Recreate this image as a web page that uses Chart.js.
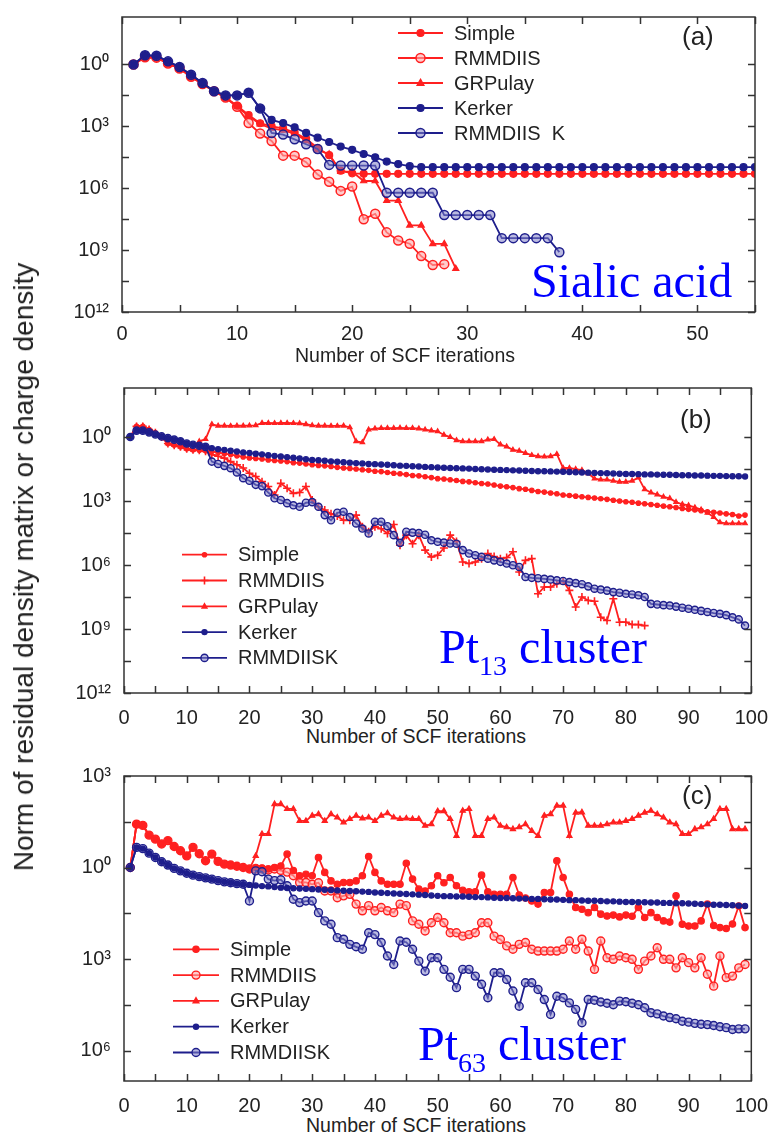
<!DOCTYPE html>
<html>
<head>
<meta charset="utf-8">
<title>SCF convergence</title>
<script src="https://cdn.jsdelivr.net/npm/chart.js@4.4.1/dist/chart.umd.min.js"></script>
<style>
	body { margin: 0; background: #fff; }
	#fig { position: relative; width: 773px; height: 1133px; overflow: hidden; font-family: "Liberation Sans", Arial, sans-serif; color: #222; }
	#fig canvas { position: absolute; left: 0; }
	.xtitle { position: absolute; font-size: 19.5px; line-height: 20px; white-space: nowrap; }
	.ytitle { position: absolute; left: 24px; top: 567px; font-size: 28px; line-height: 28px; white-space: nowrap; transform: translate(-50%, -50%) rotate(-90deg); }
	.tag { position: absolute; font-family: "Liberation Serif", "Times New Roman", serif; font-size: 48px; line-height: 48px; color: #0000ff; white-space: nowrap; }
	.tag span { font-size: 28px; position: relative; top: 12px; }
	.plabel { position: absolute; font-size: 26px; line-height: 26px; }
</style>
</head>
<body>
<div id="fig">
	<canvas id="canvas-a" width="773" height="345" style="top:0px"></canvas>
	<canvas id="canvas-b" width="773" height="355" style="top:370px"></canvas>
	<canvas id="canvas-c" width="773" height="363" style="top:750px"></canvas>
	<div class="ytitle">Norm of residual density matrix or charge density</div>
	<div class="xtitle" style="left:295px;top:345px">Number of SCF iterations</div>
	<div class="xtitle" style="left:306px;top:726px">Number of SCF iterations</div>
	<div class="xtitle" style="left:306px;top:1115px">Number of SCF iterations</div>
	<div class="plabel" style="left:682px;top:23px">(a)</div>
	<div class="plabel" style="left:680px;top:406px">(b)</div>
	<div class="plabel" style="left:682px;top:782px">(c)</div>
	<div class="tag" style="left:531px;top:257px">Sialic acid</div>
	<div class="tag" style="left:439px;top:623px">Pt<span>13</span> cluster</div>
	<div class="tag" style="left:418px;top:1020px">Pt<span>63</span> cluster</div>
</div>
<script>
// values are log10 of the residual norm, one per SCF iteration starting at 1
var namesA = ['Simple', 'RMMDIIS', 'GRPulay', 'Kerker', 'RMMDIIS  K'];
var namesBC = ['Simple', 'RMMDIIS', 'GRPulay', 'Kerker', 'RMMDIISK'];

// (a) Sialic acid
var simpleA = [0, 0.35, 0.33, 0.05, -0.2, -0.6, -0.95, -1.3, -1.6, -2.0,
	-2.45, -2.85, -3.0, -3.1, -3.3, -3.6, -4.05, -4.4, -5.15, -5.28,
	-5.3, -5.3, -5.3, -5.3, -5.3, -5.3, -5.3, -5.3, -5.3, -5.3,
	-5.3, -5.3, -5.3, -5.3, -5.3, -5.3, -5.3, -5.3, -5.3, -5.3,
	-5.3, -5.3, -5.3, -5.3, -5.3, -5.3, -5.3, -5.3, -5.3, -5.3,
	-5.3, -5.3, -5.3, -5.3, -5.3];
var rmmdiisA = [0, 0.35, 0.33, 0.05, -0.2, -0.6, -0.95, -1.3, -1.6, -2.05,
	-2.84, -3.35, -3.71, -4.42, -4.42, -4.74, -5.34, -5.69, -6.13, -5.92,
	-7.5, -7.24, -8.14, -8.53, -8.69, -9.29, -9.72, -9.68];
var grpulayA = [0, 0.35, 0.33, 0.05, -0.2, -0.6, -0.95, -1.3, -1.6, -2.05,
	-2.5, -2.9, -3.1, -3.2, -3.35, -3.7, -4.15, -4.35, -5.2, -5.2,
	-5.65, -5.65, -6.6, -6.6, -7.8, -7.8, -8.7, -8.7, -9.9];
var kerkerA = [0, 0.45, 0.42, 0.15, -0.12, -0.5, -0.9, -1.3, -1.5, -1.5,
	-1.37, -2.13, -2.69, -2.84, -3.05, -3.32, -3.55, -3.76, -3.98, -4.14,
	-4.34, -4.5, -4.71, -4.83, -4.93, -4.98, -4.98, -4.98, -4.98, -4.98,
	-4.98, -4.98, -4.98, -4.98, -4.98, -4.98, -4.98, -4.98, -4.98, -4.98,
	-4.98, -4.98, -4.98, -4.98, -4.98, -4.98, -4.98, -4.98, -4.98, -4.98,
	-4.98, -4.98, -4.98, -4.98, -4.98];
var rmmdiiskA = [0, 0.45, 0.42, 0.15, -0.12, -0.5, -0.9, -1.3, -1.5, -1.5,
	-1.37, -2.13, -3.32, -3.4, -3.63, -3.87, -4.1, -4.87, -4.9, -4.9,
	-4.9, -4.9, -6.22, -6.22, -6.22, -6.22, -6.22, -7.3, -7.3, -7.3,
	-7.3, -7.3, -8.42, -8.42, -8.42, -8.42, -8.42, -9.1];

// (b) Pt13 cluster
var simpleB = [0, 0.5, 0.5, 0.35, 0.2, 0.0, -0.3, -0.38, -0.45, -0.55,
	-0.6, -0.62, -0.64, -0.68, -0.72, -0.78, -0.82, -0.88, -0.93, -0.98,
	-1.0, -1.03, -1.07, -1.1, -1.12, -1.15, -1.2, -1.22, -1.26, -1.3,
	-1.33, -1.35, -1.38, -1.42, -1.45, -1.47, -1.5, -1.53, -1.56, -1.6,
	-1.62, -1.66, -1.7, -1.72, -1.76, -1.8, -1.82, -1.86, -1.9, -1.95,
	-1.97, -2.0, -2.04, -2.08, -2.1, -2.14, -2.18, -2.2, -2.25, -2.3,
	-2.33, -2.37, -2.42, -2.45, -2.5, -2.55, -2.58, -2.62, -2.66, -2.72,
	-2.74, -2.77, -2.8, -2.83, -2.86, -2.89, -2.92, -2.96, -3.0, -3.03,
	-3.06, -3.1, -3.13, -3.16, -3.2, -3.24, -3.27, -3.3, -3.35, -3.39,
	-3.42, -3.45, -3.5, -3.53, -3.56, -3.6, -3.63, -3.7, -3.66];
var rmmdiisB = [0, 0.5, 0.5, 0.35, 0.2, 0.0, -0.3, -0.38, -0.45, -0.55,
	-0.6, -0.62, -0.67, -0.83, -0.9, -0.99, -1.15, -1.3, -1.45, -1.7,
	-1.85, -2.09, -2.32, -2.72, -2.17, -2.4, -2.64, -2.6, -2.32, -2.95,
	-3.27, -3.42, -3.6, -3.7, -3.9, -3.9, -3.66, -4.2, -4.44, -4.2,
	-4.3, -4.52, -4.1, -5.07, -4.6, -5.0, -4.6, -5.3, -5.62, -5.54,
	-5.2, -4.6, -4.9, -5.86, -5.93, -5.86, -5.7, -5.46, -5.6, -5.7,
	-5.65, -5.38, -6.33, -5.78, -5.7, -7.35, -7.03, -7.03, -6.88, -6.75,
	-7.19, -7.97, -7.5, -7.66, -7.7, -8.45, -8.6, -7.58, -8.68, -8.68,
	-8.79, -8.79, -8.84];
var grpulayB = [0, 0.5, 0.5, 0.35, 0.2, 0.0, -0.3, -0.38, -0.45, -0.55,
	-0.6, -0.2, -0.1, 0.6, 0.53, 0.53, 0.52, 0.53, 0.53, 0.54,
	0.55, 0.66, 0.66, 0.65, 0.66, 0.66, 0.65, 0.64, 0.6, 0.55,
	0.53, 0.53, 0.52, 0.52, 0.53, 0.45, -0.2, -0.25, 0.35, 0.4,
	0.42, 0.42, 0.42, 0.43, 0.42, 0.42, 0.4, 0.35, 0.3, 0.27,
	0.1, 0.0, -0.15, -0.2, -0.2, -0.2, -0.2, -0.12, -0.1, -0.35,
	-0.45, -0.6, -0.65, -0.75, -0.85, -0.9, -0.92, -0.9, -0.8, -1.45,
	-1.45, -1.5, -1.55, -1.7, -1.95, -2.0, -2.0, -2.05, -2.1, -2.1,
	-2.05, -1.9, -2.45, -2.6, -2.7, -2.8, -2.87, -3.05, -3.15, -3.2,
	-3.3, -3.4, -3.55, -3.75, -4.0, -4.05, -4.05, -4.05, -4.05];
var kerkerB = [0, 0.3, 0.3, 0.22, 0.12, 0.03, -0.05, -0.12, -0.2, -0.3,
	-0.36, -0.41, -0.46, -0.52, -0.57, -0.6, -0.64, -0.68, -0.72, -0.75,
	-0.78, -0.81, -0.85, -0.88, -0.91, -0.94, -0.97, -1.0, -1.04, -1.07,
	-1.09, -1.11, -1.14, -1.16, -1.18, -1.2, -1.22, -1.24, -1.26, -1.27,
	-1.29, -1.3, -1.32, -1.34, -1.35, -1.37, -1.38, -1.4, -1.41, -1.43,
	-1.44, -1.45, -1.46, -1.47, -1.48, -1.5, -1.51, -1.52, -1.53, -1.54,
	-1.55, -1.56, -1.57, -1.58, -1.59, -1.6, -1.6, -1.61, -1.62, -1.63,
	-1.64, -1.65, -1.66, -1.67, -1.68, -1.69, -1.7, -1.71, -1.72, -1.73,
	-1.73, -1.74, -1.75, -1.75, -1.76, -1.77, -1.77, -1.78, -1.79, -1.79,
	-1.8, -1.8, -1.81, -1.82, -1.82, -1.83, -1.84, -1.84, -1.85];
var rmmdiiskB = [0, 0.3, 0.3, 0.22, 0.12, 0.03, -0.05, -0.12, -0.2, -0.3,
	-0.36, -0.41, -0.46, -1.15, -1.26, -1.35, -1.46, -1.66, -1.93, -2.05,
	-2.24, -2.3, -2.6, -2.87, -2.95, -3.1, -3.2, -3.27, -3.08, -3.05,
	-3.27, -3.66, -3.9, -3.55, -3.5, -3.75, -4.05, -4.29, -4.52, -3.97,
	-3.97, -4.18, -4.6, -4.96, -4.44, -4.48, -4.5, -4.58, -4.84, -4.91,
	-4.95, -4.99, -5.0, -5.3, -5.46, -5.54, -5.62, -5.7, -5.78, -5.85,
	-5.93, -6.01, -6.09, -6.56, -6.6, -6.62, -6.65, -6.68, -6.72, -6.75,
	-6.8, -6.85, -6.9, -7.0, -7.11, -7.15, -7.2, -7.27, -7.3, -7.35,
	-7.38, -7.42, -7.5, -7.82, -7.85, -7.88, -7.9, -7.95, -8.0, -8.05,
	-8.1, -8.15, -8.2, -8.25, -8.29, -8.35, -8.45, -8.55, -8.84];

// (c) Pt63 cluster
var simpleC = [0, 1.42, 1.38, 1.06, 0.93, 0.77, 0.88, 0.69, 0.55, 0.38,
	0.66, 0.45, 0.22, 0.44, 0.2, 0.11, 0.08, 0.04, 0.0, -0.05,
	0.0, -0.03, -0.05, 0.0, 0.05, 0.44, -0.1, -0.27, -0.22, -0.27,
	0.33, -0.16, -0.44, -0.55, -0.49, -0.49, -0.44, -0.27, 0.36, -0.16,
	-0.44, -0.55, -0.55, -0.55, 0.14, -0.38, -0.71, -0.77, -0.6, -0.27,
	-0.5, -0.33, -0.6, -0.75, -0.8, -0.8, -0.25, -0.8, -0.88, -0.88,
	-0.88, -0.33, -0.9, -1.0, -1.1, -1.2, -0.82, -0.82, 0.22, -0.33,
	-0.88, -1.31, -1.37, -1.48, -1.31, -1.53, -1.59, -1.56, -1.62, -1.56,
	-1.6, -1.31, -1.64, -1.48, -1.64, -1.75, -1.79, -0.93, -1.86, -1.92,
	-1.92, -1.75, -1.2, -1.9, -1.97, -2.0, -1.85, -1.26, -1.97];
var rmmdiisC = [0, 1.42, 1.38, 1.06, 0.93, 0.77, 0.88, 0.69, 0.55, 0.38,
	0.66, 0.45, 0.22, 0.44, 0.2, 0.11, 0.08, 0.04, 0.0, -0.05,
	-0.05, -0.05, -0.08, -0.05, -0.1, -0.15, -0.27, -0.49, -0.49, -0.55,
	-0.5, -0.77, -0.77, -0.99, -0.93, -0.88, -1.2, -1.42, -1.25, -1.42,
	-1.31, -1.42, -1.48, -1.2, -1.25, -1.75, -1.86, -2.08, -1.81, -1.64,
	-1.81, -2.14, -2.14, -2.25, -2.2, -2.14, -1.81, -1.81, -2.25, -2.36,
	-2.57, -2.68, -2.52, -2.46, -2.68, -2.74, -2.74, -2.74, -2.74, -2.68,
	-2.41, -2.68, -2.35, -2.74, -3.34, -2.41, -2.96, -3.01, -2.9, -2.96,
	-3.01, -3.34, -3.07, -2.9, -2.63, -3.01, -3.01, -3.29, -2.96, -3.12,
	-3.29, -2.96, -3.5, -3.89, -2.9, -3.61, -3.56, -3.29, -3.18];
var grpulayC = [0, 1.42, 1.38, 1.06, 0.93, 0.77, 0.88, 0.69, 0.55, 0.38,
	0.66, 0.45, 0.22, 0.44, 0.2, 0.11, 0.08, 0.04, 0.0, -0.05,
	0.38, 1.1, 1.1, 2.08, 2.08, 1.92, 1.92, 1.53, 1.53, 1.7,
	1.75, 1.53, 1.75, 1.64, 1.48, 1.59, 1.7, 1.61, 1.64, 1.53,
	1.7, 1.78, 1.64, 1.59, 1.61, 1.59, 1.59, 1.37, 1.42, 1.85,
	1.85, 1.59, 1.04, 1.86, 1.92, 1.04, 1.04, 1.59, 1.64, 1.37,
	1.32, 1.26, 1.32, 1.42, 1.2, 1.04, 1.7, 1.75, 2.03, 2.03,
	1.04, 1.8, 1.81, 1.37, 1.37, 1.37, 1.42, 1.48, 1.48, 1.53,
	1.59, 1.7, 1.8, 1.86, 1.75, 1.64, 1.48, 1.42, 1.1, 1.1,
	1.26, 1.32, 1.42, 1.59, 1.92, 1.92, 1.26, 1.26, 1.26];
var kerkerC = [0, 0.66, 0.62, 0.47, 0.33, 0.19, 0.08, -0.03, -0.11, -0.19,
	-0.25, -0.3, -0.34, -0.38, -0.43, -0.47, -0.5, -0.53, -0.55, -0.57,
	-0.59, -0.61, -0.62, -0.64, -0.66, -0.67, -0.68, -0.69, -0.7, -0.71,
	-0.72, -0.73, -0.74, -0.75, -0.76, -0.77, -0.78, -0.79, -0.8, -0.82,
	-0.83, -0.84, -0.85, -0.86, -0.87, -0.88, -0.89, -0.9, -0.92, -0.93,
	-0.94, -0.94, -0.95, -0.95, -0.96, -0.97, -0.97, -0.98, -0.99, -1.0,
	-1.0, -1.01, -1.02, -1.02, -1.03, -1.03, -1.04, -1.05, -1.05, -1.06,
	-1.07, -1.07, -1.08, -1.09, -1.09, -1.1, -1.11, -1.11, -1.12, -1.13,
	-1.13, -1.14, -1.14, -1.15, -1.15, -1.16, -1.16, -1.17, -1.17, -1.18,
	-1.19, -1.2, -1.21, -1.22, -1.22, -1.23, -1.24, -1.25, -1.26];
var rmmdiiskC = [0, 0.66, 0.62, 0.47, 0.33, 0.19, 0.08, -0.03, -0.11, -0.19,
	-0.25, -0.3, -0.34, -0.38, -0.43, -0.47, -0.5, -0.53, -0.55, -1.1,
	-0.11, -0.14, -0.38, -0.43, -0.4, -0.6, -1.04, -1.15, -1.1, -1.1,
	-1.48, -1.75, -1.86, -2.3, -2.35, -2.52, -2.6, -2.68, -2.14, -2.2,
	-2.46, -2.9, -3.18, -2.41, -2.45, -2.68, -3.07, -3.4, -2.96, -2.96,
	-3.34, -3.6, -3.94, -3.34, -3.34, -3.56, -3.83, -4.27, -3.45, -3.45,
	-3.67, -4.05, -4.55, -3.78, -3.78, -4.0, -4.33, -4.82, -4.22, -4.27,
	-4.44, -4.65, -5.09, -4.33, -4.35, -4.41, -4.45, -4.5, -4.38, -4.4,
	-4.45, -4.5, -4.6, -4.76, -4.8, -4.87, -4.92, -4.96, -5.04, -5.07,
	-5.11, -5.14, -5.15, -5.18, -5.22, -5.25, -5.31, -5.29, -5.29];

var red = '#ff2020';
var navy = '#1e1e8c';
var redOpen = 'rgba(255,170,170,0.6)';
var navyOpen = 'rgba(130,130,200,0.55)';
var tickFont = { family: '"Liberation Sans", Arial, sans-serif', size: 20 };
var supDigits = { '0': '\u2070', '1': '\u00b9', '2': '\u00b2', '3': '\u00b3', '6': '\u2076', '9': '\u2079' };

function expLabel(v) {
	if (Math.abs(v / 3 - Math.round(v / 3)) > 1e-6) return '';
	var e = String(Math.abs(Math.round(v)));
	return '10' + e.split('').map(function(c) { return supDigits[c]; }).join('');
}

function serie(label, values, color, st) {
	return {
		label: label,
		data: values.map(function(v, i) { return { x: i + 1, y: v }; }),
		borderColor: color,
		borderWidth: 1.8,
		pointStyle: st.shape,
		pointRadius: st.r,
		pointBorderWidth: st.bw || 1.2,
		pointBorderColor: color,
		pointBackgroundColor: st.fill || color,
		order: st.order,
		tension: 0,
		fill: false
	};
}

function drawMark(ctx, ds, x, y) {
	var r = ds.pointRadius;
	ctx.lineWidth = ds.pointBorderWidth;
	ctx.strokeStyle = ds.pointBorderColor;
	ctx.fillStyle = ds.pointBackgroundColor;
	ctx.beginPath();
	if (ds.pointStyle === 'triangle') {
		ctx.moveTo(x, y - r * 1.1);
		ctx.lineTo(x + r, y + r * 0.7);
		ctx.lineTo(x - r, y + r * 0.7);
		ctx.closePath();
		ctx.fill();
		ctx.stroke();
	} else if (ds.pointStyle === 'cross') {
		ctx.moveTo(x - r, y); ctx.lineTo(x + r, y);
		ctx.moveTo(x, y - r); ctx.lineTo(x, y + r);
		ctx.stroke();
	} else {
		ctx.arc(x, y, r, 0, Math.PI * 2);
		ctx.fill();
		ctx.stroke();
	}
}

// box with inward ticks on all four sides
var framePlugin = {
	id: 'frame',
	afterDatasetsDraw: function(chart) {
		var a = chart.chartArea, ctx = chart.ctx;
		var sx = chart.scales.x, sy = chart.scales.y;
		ctx.save();
		ctx.strokeStyle = '#333';
		ctx.lineWidth = 1.5;
		ctx.strokeRect(a.left, a.top, a.right - a.left, a.bottom - a.top);
		ctx.beginPath();
		sx.ticks.forEach(function(t) {
			var px = Math.round(sx.getPixelForValue(t.value)) + 0.5;
			ctx.moveTo(px, a.bottom); ctx.lineTo(px, a.bottom - 7);
			ctx.moveTo(px, a.top); ctx.lineTo(px, a.top + 7);
		});
		sy.ticks.forEach(function(t) {
			var py = Math.round(sy.getPixelForValue(t.value)) + 0.5;
			ctx.moveTo(a.left, py); ctx.lineTo(a.left + 7, py);
			ctx.moveTo(a.right, py); ctx.lineTo(a.right - 7, py);
		});
		ctx.stroke();
		ctx.restore();
	}
};

// legend drawn inside the plot
var legendPlugin = {
	id: 'boxLegend',
	afterDraw: function(chart, args, o) {
		var ctx = chart.ctx;
		ctx.save();
		chart.data.datasets.forEach(function(ds, i) {
			var y = o.top + i * o.gap;
			ctx.strokeStyle = ds.borderColor;
			ctx.lineWidth = 1.8;
			ctx.beginPath();
			ctx.moveTo(o.left, y);
			ctx.lineTo(o.left + o.len, y);
			ctx.stroke();
			drawMark(ctx, ds, o.left + o.len / 2, y);
			ctx.fillStyle = '#222';
			ctx.font = '20px "Liberation Sans", Arial, sans-serif';
			ctx.textBaseline = 'middle';
			ctx.fillText(ds.label, o.textX, y + 1);
		});
		ctx.restore();
	}
};

function panelChart(id, sets, o) {
	return new Chart(document.getElementById(id), {
		type: 'line',
		data: { datasets: sets },
		options: {
			responsive: false,
			animation: false,
			events: [],
			layout: { padding: { top: o.padTop, right: 18, left: 0, bottom: 0 } },
			plugins: { legend: { display: false }, tooltip: { enabled: false }, boxLegend: o.legend },
			scales: {
				x: {
					type: 'linear', min: 0, max: o.xMax,
					grid: { display: false }, border: { display: false },
					ticks: {
						stepSize: 5, autoSkip: false, maxRotation: 0, padding: o.xPad,
						color: '#222', font: tickFont,
						callback: function(v) { return v % 10 === 0 ? String(v) : ''; }
					},
					afterFit: function(s) { s.height = o.xH; }
				},
				y: {
					type: 'linear', min: o.yMin, max: o.yMax,
					grid: { display: false }, border: { display: false },
					ticks: { stepSize: 1.5, autoSkip: false, padding: 5, color: '#222', font: tickFont, callback: expLabel },
					afterBuildTicks: function(s) {
						s.ticks = s.ticks.filter(function(t) { return Math.abs(t.value / 1.5 - Math.round(t.value / 1.5)) < 1e-6; });
					},
					afterFit: function(s) { s.width = o.yW; }
				}
			}
		},
		plugins: [framePlugin, legendPlugin]
	});
}

var chartA = panelChart('canvas-a', [
	serie(namesA[0], simpleA, red, { shape: 'circle', r: 3.5, order: 1 }),
	serie(namesA[1], rmmdiisA, red, { shape: 'circle', r: 4.5, fill: redOpen, bw: 1.5, order: 1 }),
	serie(namesA[2], grpulayA, red, { shape: 'triangle', r: 3.5, order: 1 }),
	serie(namesA[3], kerkerA, navy, { shape: 'circle', r: 3.5, order: 0 }),
	serie(namesA[4], rmmdiiskA, navy, { shape: 'circle', r: 4.5, fill: navyOpen, bw: 1.5, order: 0 })
], { padTop: 7, xMax: 55, xH: 33, xPad: 2, yMin: -12, yMax: 2.3, yW: 122,
	legend: { left: 398, top: 33, gap: 25, len: 45, textX: 454 } });

var chartB = panelChart('canvas-b', [
	serie(namesBC[0], simpleB, red, { shape: 'circle', r: 2.2, order: 1 }),
	serie(namesBC[1], rmmdiisB, red, { shape: 'cross', r: 4, bw: 1.6, order: 1 }),
	serie(namesBC[2], grpulayB, red, { shape: 'triangle', r: 2.6, order: 1 }),
	serie(namesBC[3], kerkerB, navy, { shape: 'circle', r: 2.6, order: 0 }),
	serie(namesBC[4], rmmdiiskB, navy, { shape: 'circle', r: 3.6, fill: navyOpen, bw: 1.4, order: 0 })
], { padTop: 18, xMax: 100, xH: 32, xPad: 5, yMin: -12, yMax: 2.3, yW: 124,
	legend: { left: 182, top: 184.7, gap: 25.8, len: 45, textX: 238 } });

var chartC = panelChart('canvas-c', [
	serie(namesBC[0], simpleC, red, { shape: 'circle', r: 3.2, order: 1 }),
	serie(namesBC[1], rmmdiisC, red, { shape: 'circle', r: 4, fill: redOpen, bw: 1.4, order: 1 }),
	serie(namesBC[2], grpulayC, red, { shape: 'triangle', r: 3, order: 1 }),
	serie(namesBC[3], kerkerC, navy, { shape: 'circle', r: 2.6, order: 0 }),
	serie(namesBC[4], rmmdiiskC, navy, { shape: 'circle', r: 4, fill: navyOpen, bw: 1.4, order: 0 })
], { padTop: 26, xMax: 100, xH: 32, xPad: 5, yMin: -7, yMax: 3, yW: 124,
	legend: { left: 173, top: 199.3, gap: 25.8, len: 46, textX: 230 } });
</script>
</body>
</html>
